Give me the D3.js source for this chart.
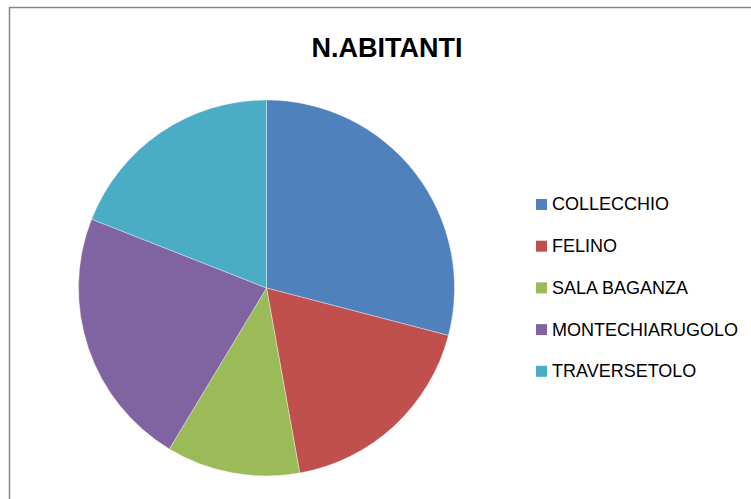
<!DOCTYPE html>
<html>
<head>
<meta charset="utf-8">
<script src="https://cdn.jsdelivr.net/npm/d3@7"></script>
<style>
  html, body { margin: 0; padding: 0; background: #fff; }
  svg { display: block; }
</style>
</head>
<body>
<script>
// Data (population share per comune)
const comuni = ['COLLECCHIO', 'FELINO', 'SALA BAGANZA', 'MONTECHIARUGOLO', 'TRAVERSETOLO'];
const abitanti = [14421, 8988, 5692, 11077, 9444];
const colori = ['#4f81bd', '#c0504d', '#9bbb59', '#8064a2', '#4bacc6'];

const width = 751, height = 499;

const svg = d3.select('body').append('svg')
    .attr('width', width)
    .attr('height', height);

// Chart area frame (only top and left are visible in the crop)
svg.append('path')
    .attr('d', `M9.5,${height} V7.5 H${width}`)
    .attr('fill', 'none')
    .attr('stroke', '#868686')
    .attr('stroke-width', 1.5);

// Title
svg.append('text')
    .attr('x', 387)
    .attr('y', 57)
    .attr('text-anchor', 'middle')
    .style('font-family', '"Liberation Sans", Arial, sans-serif')
    .style('font-weight', 'bold')
    .style('font-size', '27px')
    .style('fill', '#000')
    .text('N.ABITANTI');

// Pie
const data = comuni.map((c, i) => ({ name: c, value: abitanti[i], color: colori[i] }));

const pie = d3.pie()
    .value(d => d.value)
    .sort(null);

const arc = d3.arc()
    .innerRadius(0)
    .outerRadius(188);

const g = svg.append('g')
    .attr('transform', 'translate(266.5,288)');

g.selectAll('path')
    .data(pie(data))
    .join('path')
    .attr('d', arc)
    .attr('fill', d => d.data.color)
    .attr('stroke', '#ffffff')
    .attr('stroke-width', 0.6)
    .attr('stroke-opacity', 0.6);

// Legend
const legend = svg.append('g')
    .attr('transform', 'translate(536,204)');

const item = legend.selectAll('g')
    .data(data)
    .join('g')
    .attr('transform', (d, i) => `translate(0,${i * 41.7})`);

item.append('rect')
    .attr('x', 0)
    .attr('y', -5)
    .attr('width', 11)
    .attr('height', 11)
    .attr('fill', d => d.color);

item.append('text')
    .attr('x', 16)
    .attr('y', 0)
    .attr('dy', '0.36em')
    .style('font-family', '"Liberation Sans", Arial, sans-serif')
    .style('font-size', '18px')
    .style('fill', '#000')
    .text(d => d.name);
</script>
</body>
</html>
